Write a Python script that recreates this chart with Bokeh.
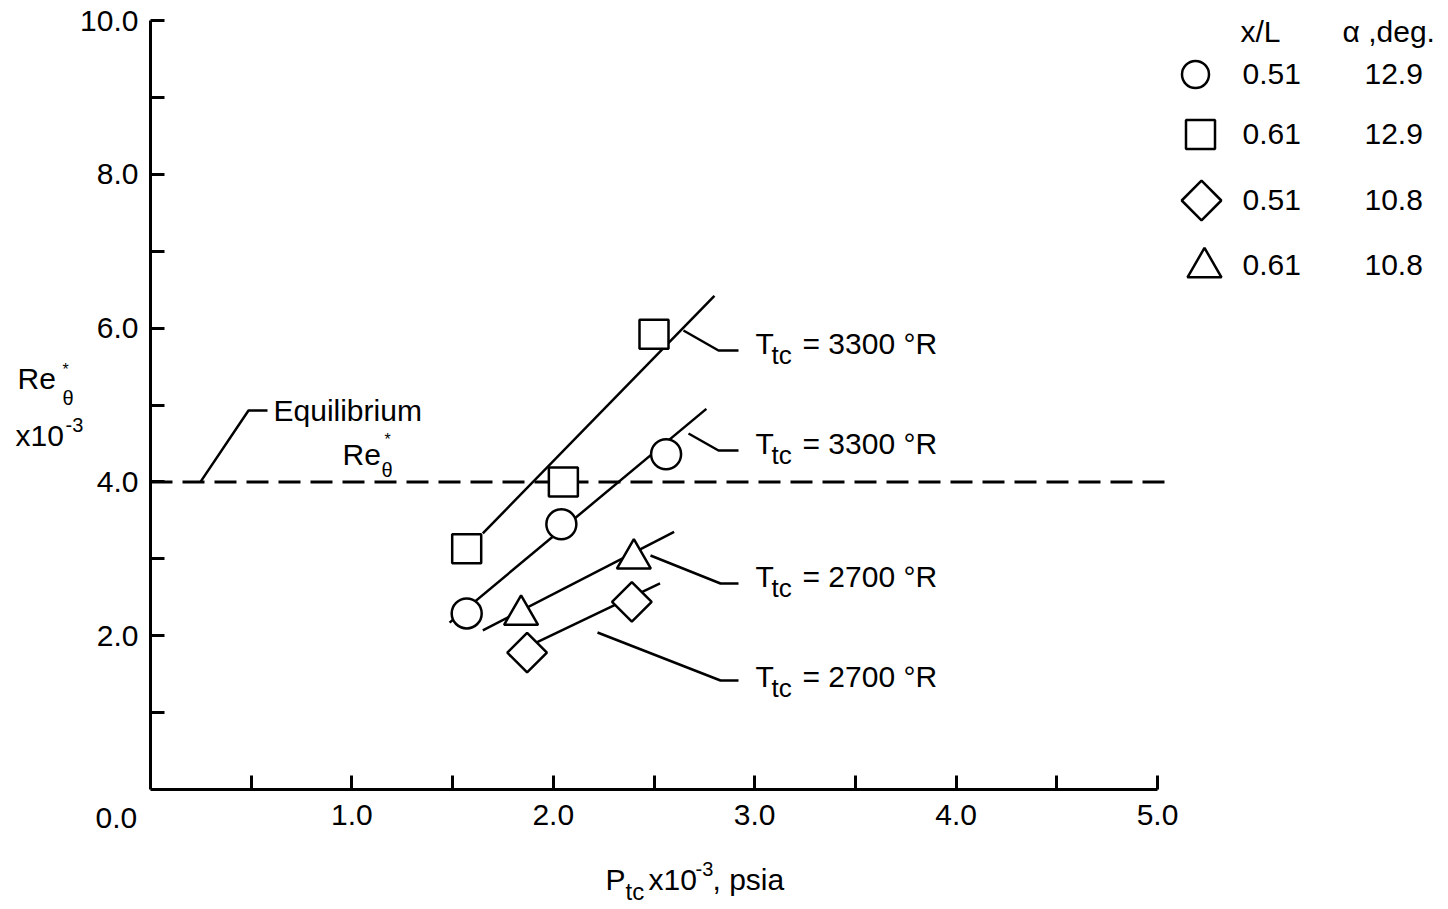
import math
from bokeh.plotting import figure
from bokeh.models import Range1d, FixedTicker, PrintfTickFormatter, Label, LinearAxis
from bokeh.embed import file_html
from bokeh.resources import INLINE

# ---------------- data ----------------
# x = P_tc x10^-3 (psia), y = Re*_theta x10^-3
sq_x = [1.57, 2.05, 2.50]      # x/L 0.61, alpha 12.9
sq_y = [3.13, 4.00, 5.92]
ci_x = [1.57, 2.04, 2.56]      # x/L 0.51, alpha 12.9
ci_y = [2.29, 3.45, 4.36]
di_x = [1.87, 2.39]            # x/L 0.51, alpha 10.8
di_y = [1.78, 2.44]
tr_x = [1.84, 2.40]            # x/L 0.61, alpha 10.8
tr_y = [2.27, 3.00]

# fairing lines through each set
sq_fit_x = [1.65, 2.80]
sq_fit_y = [3.33, 6.42]
ci_fit_x = [1.485, 2.76]
ci_fit_y = [2.17, 4.95]
tr_fit_x = [1.65, 2.60]
tr_fit_y = [2.07, 3.35]
di_fit_x = [1.78, 2.53]
di_fit_y = [1.74, 2.68]

# equilibrium Re*_theta
eq_x = [0.0, 5.04]
eq_y = [4.0, 4.0]

x_major = [1.0, 2.0, 3.0, 4.0, 5.0]
x_minor = [0.5, 1.5, 2.5, 3.5, 4.5]
y_major = [2.0, 4.0, 6.0, 8.0, 10.0]
y_minor = [1.0, 3.0, 5.0, 7.0, 9.0]

legend_markers = ["circle", "square", "diamond", "triangle"]
legend_xL = ["0.51", "0.61", "0.51", "0.61"]
legend_alpha = ["12.9", "12.9", "10.8", "10.8"]
t_tc = ["3300", "3300", "2700", "2700"]   # square, circle, triangle, diamond sets

# ---------------- layout helpers ----------------
FONT = "Liberation Sans"
X0_PX, X_SCALE = 150.0, 201.4   # canvas px of x=0, px per unit
Y0_PX, Y_SCALE = 789.0, 76.9    # canvas px of y=0, px per unit
W, H = 1440, 908


def sx(px):
    return (px - X0_PX) / X_SCALE


def sy(py):
    return (Y0_PX - py) / Y_SCALE


p = figure(width=W, height=H, output_backend="svg", toolbar_location=None,
           x_range=Range1d(sx(0), sx(W)), y_range=Range1d(sy(H), sy(0)),
           x_axis_type=None, y_axis_type=None, min_border=0)
p.outline_line_color = None
p.background_fill_color = "white"
p.border_fill_color = "white"

xa = LinearAxis(fixed_location=0)
ya = LinearAxis(fixed_location=0)
for ax, major, minor, bnd in ((xa, x_major, x_minor, (0, 5)),
                              (ya, y_major, y_minor, (0, 10))):
    ax.ticker = FixedTicker(ticks=major, minor_ticks=minor)
    ax.formatter = PrintfTickFormatter(format="%.1f")
    ax.bounds = bnd
    ax.axis_line_width = 3
    ax.axis_line_color = "black"
    ax.major_tick_in = 14
    ax.major_tick_out = 0
    ax.minor_tick_in = 14
    ax.minor_tick_out = 0
    ax.major_tick_line_width = 3
    ax.minor_tick_line_width = 3
    ax.major_tick_line_color = "black"
    ax.minor_tick_line_color = "black"
    ax.major_label_text_font = FONT
    ax.major_label_text_font_size = "30px"
    ax.major_label_text_color = "black"
xa.major_label_standoff = 15
ya.major_label_standoff = 12
p.add_layout(xa, "below")
p.add_layout(ya, "left")


def lab(text, px, base, size=30, align="left"):
    # base = wanted baseline (canvas px); compensate the label's baseline offset
    py = base - 0.385 * size
    p.add_layout(Label(x=sx(px), y=sy(py), text=text, text_font=FONT,
                       text_font_size=f"{size}px", text_color="black",
                       text_align=align, text_baseline="alphabetic"))


# origin label
lab("0.0", 95, 829)

# equilibrium dashed line
p.line(eq_x, eq_y, line_color="black", line_width=3, line_dash="22 10")

# fairing lines
for fx, fy in ((sq_fit_x, sq_fit_y), (ci_fit_x, ci_fit_y),
               (tr_fit_x, tr_fit_y), (di_fit_x, di_fit_y)):
    p.line(fx, fy, line_color="black", line_width=2.5)

# leader lines (annotation geometry, canvas px)
leaders = [
    [(200, Y0_PX - 4.0 * Y_SCALE), (248, 410), (267, 410)],
    [(683, 330), (718, 350), (738, 350)],
    [(688, 433), (718, 450), (738, 450)],
    [(650, 555), (720, 583), (738, 583)],
    [(597, 632), (720, 680), (738, 680)],
]
for pts in leaders:
    p.line([sx(a) for a, b in pts], [sy(b) for a, b in pts],
           line_color="black", line_width=2.5)

# data markers
mk = dict(fill_color="white", line_color="black", line_width=2.5)
p.scatter(sq_x, sq_y, marker="square", size=29, **mk)
p.scatter(ci_x, ci_y, marker="circle", size=30, **mk)
p.scatter(di_x, di_y, marker="square", size=28, angle=math.pi / 4, **mk)
p.scatter(tr_x, tr_y, marker="triangle", size=34, **mk)

# T_tc labels
for txt, base in zip(t_tc, (355, 455, 588, 688)):
    lab("T", 755, base)
    lab("tc", 771, base + 10, size=26)
    lab(f"= {txt} \u00b0R", 802, base)

# Equilibrium label
lab("Equilibrium", 273, 422)
lab("Re", 342, 466)
lab("\u03b8", 381, 477, size=20)
lab("*", 384, 445, size=16)

# y-axis title
lab("Re", 17, 390)
lab("\u03b8", 62, 405, size=20)
lab("*", 62, 375, size=16)
lab("x10", 15, 447)
lab("-3", 65, 432, size=20)

# x-axis title
lab("P", 605, 891)
lab("tc", 625, 900, size=24)
lab("x10", 648, 891)
lab("-3", 695, 876, size=20)
lab(", psia", 712, 891)

# legend
lab("x/L", 1240, 43)
lab("\u03b1 ,deg.", 1342, 43)
leg_pos = [(1195, 74), (1200, 134), (1201, 200), (1204, 267)]
leg_size = {"circle": 27, "square": 29, "diamond": 28, "triangle": 34}
for m, (lx, ly), a, b, base in zip(legend_markers, leg_pos, legend_xL, legend_alpha,
                                   (85, 145, 211, 276)):
    if m == "diamond":
        p.scatter([sx(lx)], [sy(ly)], marker="square", size=leg_size[m],
                  angle=math.pi / 4, **mk)
    else:
        p.scatter([sx(lx)], [sy(ly)], marker=m, size=leg_size[m], **mk)
    lab(a, 1242, base)
    lab(b, 1364, base)

open("out.html", "w").write(file_html(p, INLINE))
